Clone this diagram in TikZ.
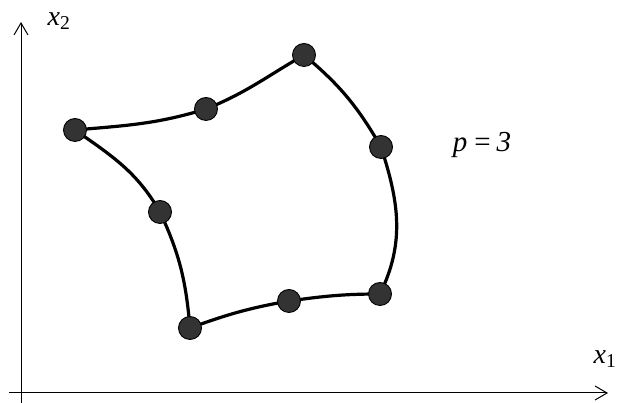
\documentclass[tikz,border=0pt]{standalone}
\usepackage{fontspec}
\setmainfont{Liberation Serif}
\usetikzlibrary{arrows.meta}

\begin{document}
\begin{tikzpicture}[x=1pt, y=1pt, >={Straight Barb[length=12pt,width=14pt]},
  knot/.style={circle, draw=black, line width=0.9pt, fill=black!80,
    minimum size=23pt, inner sep=0pt},
  edge/.style={line width=3.2pt},
  axis/.style={->, line width=1pt},
  lbl/.style={font=\fontsize{28}{32}\selectfont}]
\useasboundingbox (0,0) rectangle (618,403);
% axes
\coordinate (o1) at (9,10);
\coordinate (xend) at (608,10);
\coordinate (o2) at (21,0);
\coordinate (yend) at (21,381);
\draw[axis] (o1) -- (xend);
\draw[axis] (o2) -- (yend);
\node[lbl] (lx1) at (605,44) {\textit{x}\textsubscript{1}};
\node[lbl] (lx2) at (59,382) {\textit{x}\textsubscript{2}};
% control points of the element
\coordinate (k1) at (75,273);
\coordinate (k2) at (206,294);
\coordinate (k3) at (304,348);
\coordinate (k4) at (381,256);
\coordinate (k5) at (380,109);
\coordinate (k6) at (289,102);
\coordinate (k7) at (190,75);
\coordinate (k8) at (160,191);
\draw[edge] (k1) to[out=5,in=197] (k2) to[out=22,in=210] (k3);
\draw[edge] (k3) to[out=-40,in=120] (k4) to[out=-72,in=64] (k5);
\draw[edge] (k5) to[out=180,in=8] (k6) to[out=190,in=20] (k7);
\draw[edge] (k7) to[out=95,in=-65] (k8) to[out=120,in=-35] (k1);
\foreach \i in {1,...,8}
  \node[knot] (d\i) at (k\i) {};
\node[font=\fontsize{29}{33}\selectfont] (lp) at (482,258)
  {\textit{p}\hspace{7pt}=\hspace{6pt}\textit{3}};
\end{tikzpicture}
\end{document}
